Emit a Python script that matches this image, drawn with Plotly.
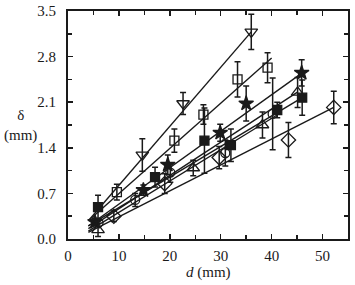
import plotly.graph_objects as go

# ---- data ----
tri_down_d = [14.6, 22.6, 36.0]
tri_down_v = [1.29, 2.08, 3.18]
tri_down_e = [0.25, 0.17, 0.27]
tri_down_line_d = [4.0, 36.0]
tri_down_line_v = [0.28, 3.18]

sq_open_d = [9.6, 20.9, 26.6, 33.3, 39.2]
sq_open_v = [0.72, 1.51, 1.91, 2.45, 2.63]
sq_open_e = [0.12, 0.18, 0.15, 0.27, 0.23]
sq_open_line_d = [4.0, 40.0]
sq_open_line_v = [0.28, 2.78]

star_d = [5.3, 14.8, 19.6, 29.9, 35.0, 45.9]
star_v = [0.26, 0.75, 1.14, 1.63, 2.08, 2.55]
star_e = [0.06, 0.08, 0.15, 0.13, 0.27, 0.20]
star_line_d = [4.0, 46.0]
star_line_v = [0.20, 2.55]

sq_fill_d = [5.9, 17.1, 26.8, 32.0, 41.1, 46.0]
sq_fill_v = [0.49, 0.95, 1.51, 1.44, 1.98, 2.17]
sq_fill_e = [0.18, 0.15, 0.50, 0.25, 0.12, 0.27]
sq_fill_line_d = [4.0, 46.0]
sq_fill_line_v = [0.20, 2.17]

tri_up_d = [5.9, 24.6, 38.2, 45.1]
tri_up_v = [0.14, 1.09, 1.75, 2.25]
tri_up_e = [0.10, 0.12, 0.20, 0.23]
tri_up_line_d = [4.0, 45.0]
tri_up_line_v = [0.16, 2.25]

circ_d = [6.0, 13.2, 20.1, 30.9, 40.2]
circ_v = [0.25, 0.60, 1.02, 1.32, 1.92]
circ_e = [0.06, 0.10, 0.15, 0.20, 0.55]
circ_line_d = [4.0, 41.0]
circ_line_v = [0.12, 1.90]

diam_d = [9.0, 19.0, 29.7, 43.3, 52.2]
diam_v = [0.35, 0.85, 1.25, 1.52, 2.02]
diam_e = [0.08, 0.15, 0.17, 0.27, 0.25]
diam_line_d = [4.0, 52.2]
diam_line_v = [0.10, 2.02]

x_ticks = [0, 10, 20, 30, 40, 50]
y_ticks = [0.0, 0.7, 1.4, 2.1, 2.8, 3.5]
y_tick_labels = ["0.0", "0.7", "1.4", "2.1", "2.8", "3.5"]

INK = "#1a1a1a"
FONT = "Liberation Serif"

fig = go.Figure()

series = [
    (tri_down_d, tri_down_v, tri_down_e, tri_down_line_d, tri_down_line_v, "triangle-down-open", 11),
    (sq_open_d, sq_open_v, sq_open_e, sq_open_line_d, sq_open_line_v, "square-open", 9),
    (star_d, star_v, star_e, star_line_d, star_line_v, "star", 11),
    (sq_fill_d, sq_fill_v, sq_fill_e, sq_fill_line_d, sq_fill_line_v, "square", 9),
    (tri_up_d, tri_up_v, tri_up_e, tri_up_line_d, tri_up_line_v, "triangle-up-open", 11),
    (circ_d, circ_v, circ_e, circ_line_d, circ_line_v, "circle-open", 9),
    (diam_d, diam_v, diam_e, diam_line_d, diam_line_v, "diamond-open", 11),
]

for d, v, e, ld, lv, sym, sz in series:
    fig.add_trace(go.Scatter(x=ld, y=lv, mode="lines",
                             line=dict(color=INK, width=1.4),
                             showlegend=False, hoverinfo="skip"))
    fig.add_trace(go.Scatter(
        x=d, y=v, mode="markers",
        marker=dict(symbol=sym, size=sz, color=INK,
                    line=dict(color=INK, width=1.3)),
        error_y=dict(type="data", array=e, visible=True,
                     color=INK, thickness=1.5, width=3),
        showlegend=False))

axis_common = dict(
    showline=True, linecolor=INK, linewidth=2, mirror="allticks",
    ticks="inside", ticklen=5, tickwidth=1.5, tickcolor=INK,
    showgrid=False, zeroline=False, automargin=False,
    ticklabeloverflow="allow",
    tickfont=dict(family=FONT, size=15, color=INK),
)

fig.update_xaxes(range=[0, 55], tickvals=x_ticks,
                 minor=dict(dtick=5, ticks="inside", ticklen=4, tickwidth=1.5, tickcolor=INK),
                 ticklabelstandoff=2,
                 **axis_common)
fig.update_yaxes(range=[0, 3.5], tickvals=y_ticks, ticktext=y_tick_labels,
                 minor=dict(dtick=0.35, ticks="inside", ticklen=4, tickwidth=1.5, tickcolor=INK),
                 ticklabelstandoff=7,
                 **axis_common)

fig.add_annotation(text="δ<br>(mm)", xref="paper", yref="paper",
                   x=-0.168, y=0.5, showarrow=False, xanchor="center", yanchor="middle",
                   font=dict(family=FONT, size=15, color=INK))
fig.add_annotation(text="<i>d</i> (mm)", xref="paper", yref="paper",
                   x=0.5, y=-0.145, showarrow=False, xanchor="center", yanchor="middle",
                   font=dict(family=FONT, size=15, color=INK))

fig.update_layout(width=355, height=285,
                  margin=dict(l=68, r=7, t=11, b=46),
                  plot_bgcolor="white", paper_bgcolor="white",
                  hovermode=False)

# remove the browser's default page margin so the figure sits at the window origin
fig.write_html("out.html", config={"displayModeBar": False, "staticPlot": True},
               post_script="document.body.style.margin='0';")
